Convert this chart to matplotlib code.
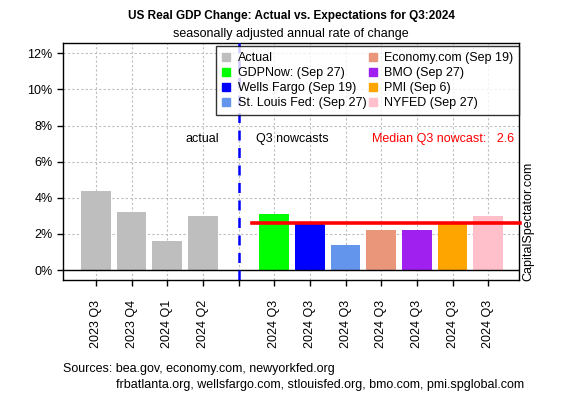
import matplotlib
matplotlib.use("Agg")
import matplotlib.pyplot as plt
from matplotlib.lines import Line2D

plt.rcParams["font.family"] = ["Liberation Sans", "DejaVu Sans"]

# data
labels = ["2023 Q3", "2023 Q4", "2024 Q1", "2024 Q2", "",
          "2024 Q3", "2024 Q3", "2024 Q3", "2024 Q3", "2024 Q3", "2024 Q3", "2024 Q3"]
values = [4.4, 3.2, 1.6, 3.0, None, 3.1, 2.6, 1.4, 2.2, 2.2, 2.6, 3.0]
colors = ["#BEBEBE", "#BEBEBE", "#BEBEBE", "#BEBEBE", None,
          "#00FF00", "#0000FF", "#6495ED", "#E9967A", "#A020F0", "#FFA500", "#FFC0CB"]
legend_names = ["Actual", "GDPNow: (Sep 27)", "Wells Fargo (Sep 19)", "St. Louis Fed: (Sep 27)",
                "Economy.com (Sep 19)", "BMO (Sep 27)", "PMI (Sep 6)", "NYFED (Sep 27)"]
legend_colors = ["#BEBEBE", "#00FF00", "#0000FF", "#6495ED",
                 "#E9967A", "#A020F0", "#FFA500", "#FFC0CB"]
median_nowcast = 2.6
fs = 9


def main():
    fig = plt.figure(figsize=(5.64, 3.95), dpi=100)
    ax = fig.add_axes([63 / 564, 1 - 280 / 395, 456 / 564, 237 / 395])

    xs = list(range(len(labels)))
    for x, v, c in zip(xs, values, colors):
        if v is not None:
            ax.bar(x, v, width=0.833, color=c, zorder=2)

    ax.set_xlim(-0.92, 11.86)
    ax.set_ylim(-0.55, 12.57)
    ax.set_yticks(range(0, 13, 2))
    ax.set_yticklabels([f"{t}%" for t in range(0, 13, 2)], fontsize=fs)
    ax.set_xticks(xs)
    ax.set_xticklabels(labels, rotation=90, fontsize=fs)
    ax.tick_params(axis="both", length=4.5, width=1, color="black", pad=3)
    ax.tick_params(axis="x", pad=10)
    for s in ax.spines.values():
        s.set_linewidth(1)

    ax.grid(True, color="#BEBEBE", linestyle=(0, (2, 2)), linewidth=0.8, zorder=0)
    ax.set_axisbelow(True)
    ax.axhline(0, color="black", linewidth=1, zorder=3)
    ax.axvline(4, color="#0000FF", linewidth=1.8, linestyle=(0, (4, 3)), zorder=3)
    ax.plot([4.38, 11.9], [median_nowcast, median_nowcast], color="red",
            linewidth=2.6, zorder=4, clip_on=False)

    ax.text(3.45, 7.27, "actual", fontsize=fs, ha="right", va="center")
    ax.text(4.5, 7.27, "Q3 nowcasts", fontsize=fs, ha="left", va="center")
    ax.text(11.72, 7.27, f"Median Q3 nowcast:   {median_nowcast}", fontsize=fs,
            color="red", ha="right", va="center")

    handles = [Line2D([], [], marker="s", linestyle="none", markersize=5.5,
                      markerfacecolor=c, markeredgecolor=c) for c in legend_colors]
    leg = ax.legend(handles, legend_names, ncol=2, loc="lower left",
                    bbox_to_anchor=(0.335, 0.696, 0.665, 0.304), mode="expand",
                    borderaxespad=0, fancybox=False, edgecolor="black",
                    fontsize=fs, handlelength=0.8, handletextpad=0.5,
                    labelspacing=0.25, borderpad=0.45, columnspacing=0.8)
    leg.get_frame().set_linewidth(1)
    leg.set_zorder(5)

    fig.text(291 / 564, 1 - 16 / 395, "US Real GDP Change: Actual vs. Expectations for Q3:2024",
             fontsize=8.5, fontweight="bold", ha="center", va="center")
    fig.text(291 / 564, 1 - 34 / 395, "seasonally adjusted annual rate of change",
             fontsize=fs, ha="center", va="center")
    fig.text(528 / 564, 1 - 221 / 395, "CapitalSpectator.com", fontsize=fs,
             rotation=90, ha="center", va="center")
    fig.text(63 / 564, 1 - 369 / 395, "Sources: bea.gov, economy.com, newyorkfed.org",
             fontsize=fs, ha="left", va="center")
    fig.text(116 / 564, 1 - 385 / 395,
             "frbatlanta.org, wellsfargo.com, stlouisfed.org, bmo.com, pmi.spglobal.com",
             fontsize=fs, ha="left", va="center")

    fig.savefig("out.png", dpi=100)


if __name__ == "__main__":
    main()
